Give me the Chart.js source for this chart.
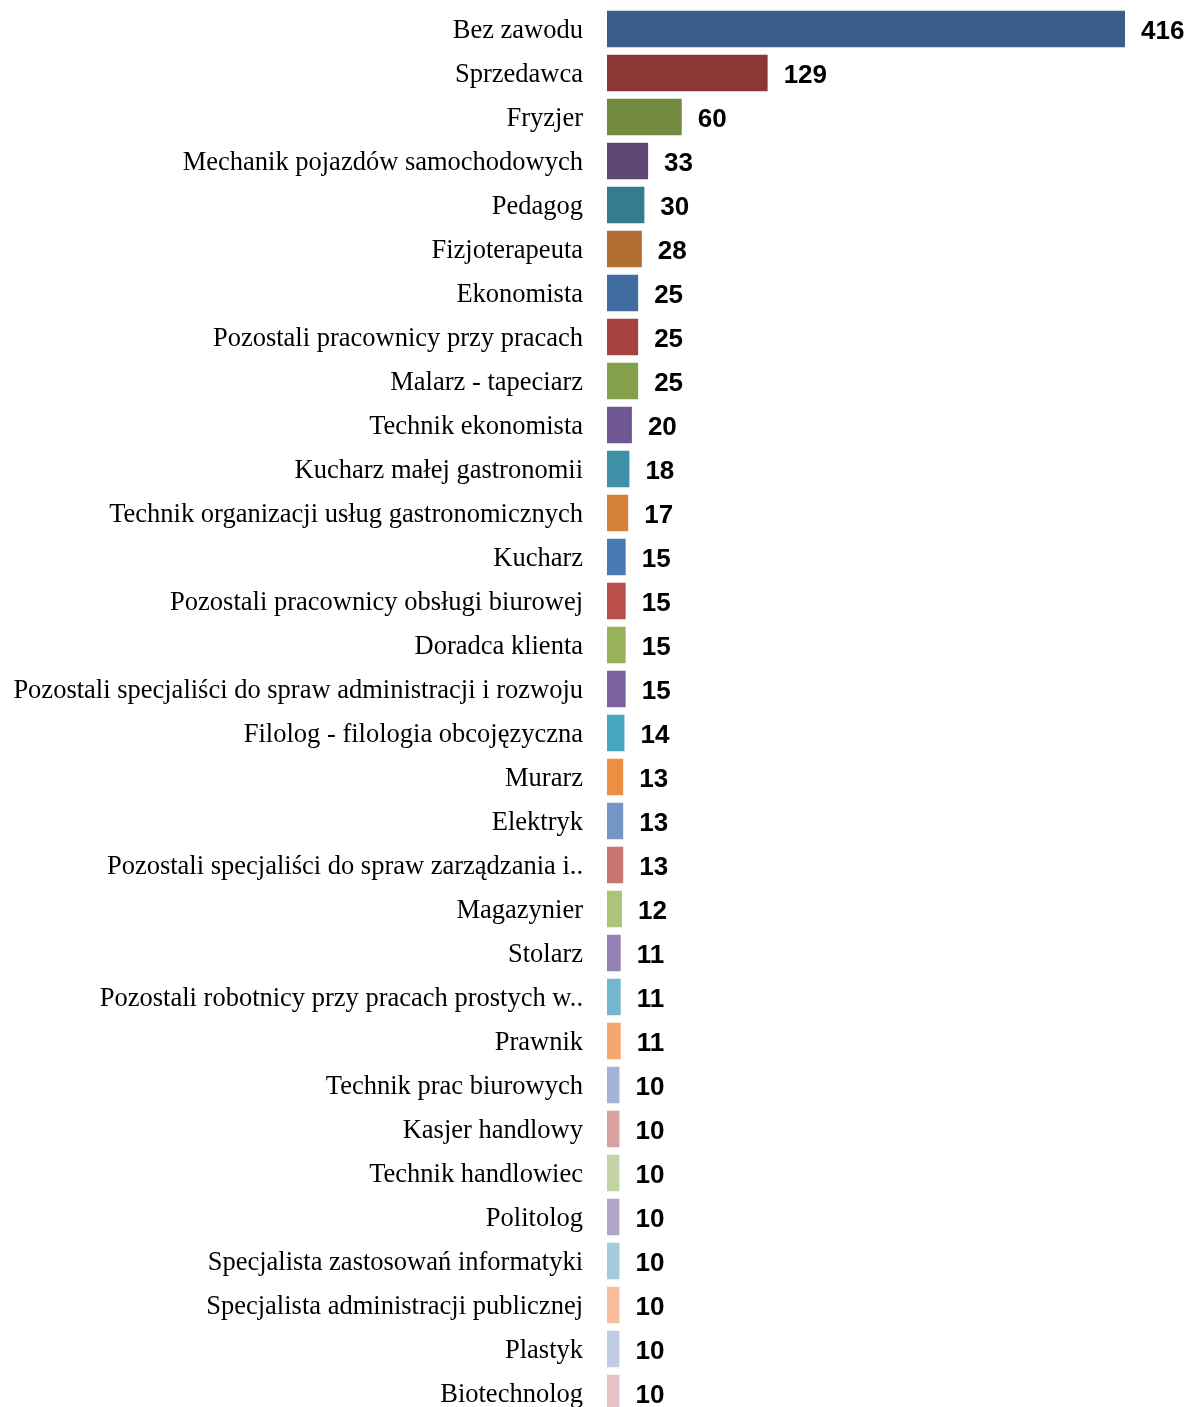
<!DOCTYPE html>
<html>
<head>
<meta charset="utf-8">
<script src="https://cdn.jsdelivr.net/npm/chart.js@4"></script>
<style>
    html, body { margin: 0; padding: 0; background: #fff; overflow: hidden; }
    #wrap { width: 1186px; height: 1407px; overflow: hidden; position: relative; }
    #wrap canvas { display: block; }
</style>
</head>
<body>
<div id="wrap"><canvas id="zawody"></canvas></div>
<script>
const kategorie = [
    'Bez zawodu', 'Sprzedawca', 'Fryzjer', 'Mechanik pojazdów samochodowych', 'Pedagog',
    'Fizjoterapeuta', 'Ekonomista', 'Pozostali pracownicy przy pracach', 'Malarz - tapeciarz',
    'Technik ekonomista', 'Kucharz małej gastronomii', 'Technik organizacji usług gastronomicznych',
    'Kucharz', 'Pozostali pracownicy obsługi biurowej', 'Doradca klienta',
    'Pozostali specjaliści do spraw administracji i rozwoju', 'Filolog - filologia obcojęzyczna',
    'Murarz', 'Elektryk', 'Pozostali specjaliści do spraw zarządzania i..', 'Magazynier', 'Stolarz',
    'Pozostali robotnicy przy pracach prostych w..', 'Prawnik', 'Technik prac biurowych',
    'Kasjer handlowy', 'Technik handlowiec', 'Politolog', 'Specjalista zastosowań informatyki',
    'Specjalista administracji publicznej', 'Plastyk', 'Biotechnolog'
];
const liczby = [416, 129, 60, 33, 30, 28, 25, 25, 25, 20, 18, 17, 15, 15, 15, 15, 14, 13, 13, 13, 12, 11, 11, 11, 10, 10, 10, 10, 10, 10, 10, 10];
const kolory = [
    '#3A5D8A', '#8B3735', '#718A3E', '#5E4773', '#347D8F', '#B46D32', '#416CA0', '#A54341',
    '#84A04A', '#6E5690', '#4091A8', '#D5803A', '#4A7AB6', '#B94E4B', '#97B259', '#7B61A0',
    '#47A5BF', '#EC8F43', '#7596C5', '#C87471', '#AAC47C', '#9580B2', '#72B7CD', '#F6A76F',
    '#A2B4D5', '#D8A2A1', '#C3D3A5', '#B1A6C7', '#A3CBD9', '#F8BF9F', '#C2CCE2', '#E3C3C4'
];

const canvas = document.getElementById('zawody');
canvas.width = 1186;
canvas.height = 1415;

// podpisy wartości na końcu słupków
const etykiety = {
    id: 'etykiety',
    afterDatasetsDraw(chart) {
        const ctx = chart.ctx;
        ctx.save();
        ctx.font = 'bold 26px "Liberation Sans", Arial, sans-serif';
        ctx.fillStyle = '#000';
        ctx.textAlign = 'left';
        ctx.textBaseline = 'middle';
        chart.getDatasetMeta(0).data.forEach((bar, i) => {
            ctx.fillText(liczby[i], bar.x + 16, bar.y + 2.5);
        });
        ctx.restore();
    }
};

new Chart(canvas.getContext('2d'), {
    type: 'bar',
    data: {
        labels: kategorie,
        datasets: [{
            data: liczby,
            backgroundColor: kolory,
            borderWidth: 0,
            barPercentage: 0.83,
            categoryPercentage: 1
        }]
    },
    options: {
        indexAxis: 'y',
        responsive: false,
        animation: false,
        layout: { padding: { top: 7, right: 61, bottom: 0, left: 0 } },
        scales: {
            x: { display: false, min: 0, max: 416 },
            y: {
                grid: { display: false, drawTicks: true, tickLength: 24 },
                border: { display: false },
                ticks: {
                    autoSkip: false,
                    padding: 0,
                    labelOffset: 2,
                    color: '#000',
                    font: { family: '"Liberation Serif", "Times New Roman", serif', size: 26.5 }
                },
                afterFit(scale) {
                    scale.width = 607;
                    scale.paddingTop = 0;
                    scale.paddingBottom = 0;
                }
            }
        },
        plugins: {
            legend: { display: false },
            tooltip: { enabled: false }
        }
    },
    plugins: [etykiety]
});
</script>
</body>
</html>
